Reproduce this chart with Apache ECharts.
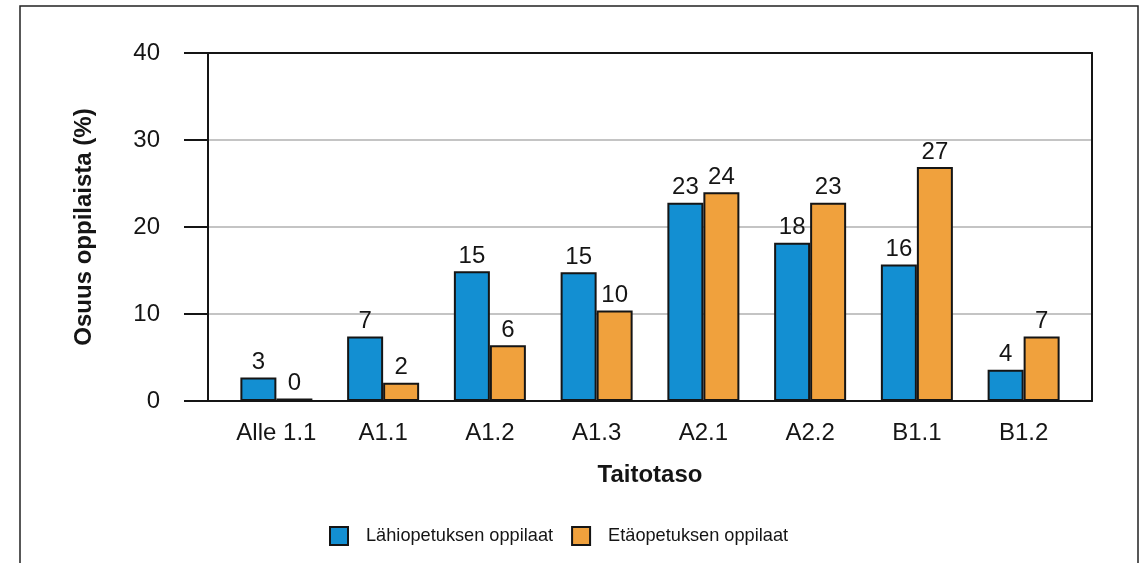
<!DOCTYPE html>
<html>
<head>
<meta charset="utf-8">
<script src="https://cdn.jsdelivr.net/npm/echarts@6/dist/echarts.min.js"></script>
<style>
  html, body { margin: 0; padding: 0; background: #fff; }
  #chart { width: 1147px; height: 563px; }
</style>
</head>
<body>
<div id="chart"></div>
<script>
  // taitotasot ja osuudet (%)
  const categories = ['Alle 1.1', 'A1.1', 'A1.2', 'A1.3', 'A2.1', 'A2.2', 'B1.1', 'B1.2']
  const lahiValues = [2.7, 7.4, 14.9, 14.8, 22.8, 18.2, 15.7, 3.6]
  const etaValues = [0.3, 2.1, 6.4, 10.4, 24.0, 22.8, 26.9, 7.4]
  const seriesNames = ['Lähiopetuksen oppilaat', 'Etäopetuksen oppilaat']
  const yTicks = [0, 10, 20, 30, 40]

  const font = "'Liberation Sans', Arial, sans-serif"
  const ink = '#151515'

  const chart = echarts.init(document.getElementById('chart'))

  const barLabel = {
    show: true,
    position: 'top',
    distance: 3,
    color: ink,
    fontFamily: font,
    fontSize: 24,
    formatter: function (p) { return Math.round(p.value) }
  }

  chart.setOption({
    animation: false,
    graphic: [{
      type: 'rect',
      shape: { x: 20, y: 6, width: 1118, height: 620 },
      style: { fill: 'none', stroke: '#222', lineWidth: 1.5 },
      silent: true
    }],
    legend: {
      left: 324,
      top: 521,
      icon: 'rect',
      itemWidth: 18,
      itemHeight: 18,
      itemGap: 18,
      textStyle: { fontFamily: font, fontSize: 18.2, color: ink, padding: [0, 0, 0, 13] },
      data: seriesNames
    },
    grid: [
      { left: 208, right: 55, top: 53, bottom: 162 },
      { left: 223, right: 70, top: 53, bottom: 162 }
    ],
    xAxis: [{
      gridIndex: 0,
      type: 'value',
      min: 0,
      max: 1,
      z: 1,
      axisLine: { show: true, onZero: false, lineStyle: { color: ink, width: 2 } },
      axisTick: { show: false },
      axisLabel: { show: false },
      splitLine: { show: false },
      name: 'Taitotaso',
      nameLocation: 'middle',
      nameGap: 62,
      nameTextStyle: { fontFamily: font, fontSize: 24, fontWeight: 'bold', color: ink }
    }, {
      gridIndex: 0,
      type: 'value',
      position: 'top',
      min: 0,
      max: 1,
      z: 1,
      axisLine: { show: true, onZero: false, lineStyle: { color: ink, width: 2 } },
      axisTick: { show: false },
      axisLabel: { show: false },
      splitLine: { show: false }
    }, {
      gridIndex: 1,
      type: 'category',
      data: categories,
      axisLine: { show: false },
      axisTick: { show: false },
      axisLabel: { interval: 0, fontFamily: font, fontSize: 24, color: ink, margin: 20 }
    }],
    yAxis: [{
      gridIndex: 0,
      type: 'value',
      min: yTicks[0],
      max: yTicks[yTicks.length - 1],
      interval: 10,
      axisLine: { show: true, lineStyle: { color: ink, width: 2 } },
      axisTick: { show: true, length: 24, lineStyle: { color: ink, width: 2 } },
      axisLabel: { fontFamily: font, fontSize: 24, color: ink, margin: 48 },
      splitLine: { show: true, lineStyle: { color: '#c4c4c4', width: 2 } },
      name: 'Osuus oppilaista (%)',
      nameLocation: 'middle',
      nameGap: 112,
      nameTextStyle: { fontFamily: font, fontSize: 24, fontWeight: 'bold', color: ink }
    }, {
      gridIndex: 0,
      type: 'value',
      position: 'right',
      min: 0,
      max: 40,
      axisLine: { show: true, onZero: false, lineStyle: { color: ink, width: 2 } },
      axisTick: { show: false },
      axisLabel: { show: false },
      splitLine: { show: false }
    }, {
      gridIndex: 1,
      type: 'value',
      min: 0,
      max: 40,
      show: false
    }],
    series: [{
      name: seriesNames[0],
      type: 'bar',
      xAxisIndex: 2,
      yAxisIndex: 2,
      barWidth: 36,
      barGap: '0%',
      data: lahiValues,
      itemStyle: { color: '#138fd2', borderColor: ink, borderWidth: 2 },
      label: barLabel
    }, {
      name: seriesNames[1],
      type: 'bar',
      xAxisIndex: 2,
      yAxisIndex: 2,
      barWidth: 36,
      barGap: '0%',
      data: etaValues,
      itemStyle: { color: '#f0a13d', borderColor: ink, borderWidth: 2 },
      label: barLabel
    }]
  })
</script>
</body>
</html>
